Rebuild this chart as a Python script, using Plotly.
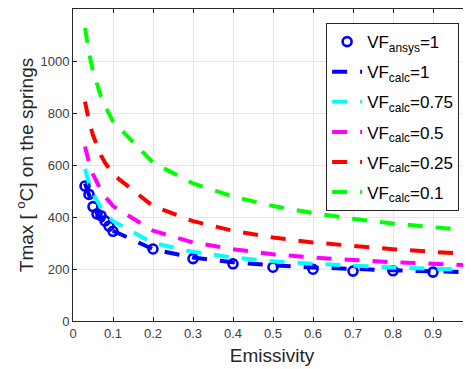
import plotly.graph_objects as go

emissivity = [0.03, 0.04, 0.05, 0.06, 0.07, 0.08, 0.09, 0.1,
              0.2, 0.3, 0.4, 0.5, 0.6, 0.7, 0.8, 0.9, 1.0]

t_ansys = [519, 487, 440, 412, 405, 385, 365, 345,
           277, 240, 220, 207, 199, 192, 193, 188, 184]

t_vf1 = [529, 479, 442, 415, 393, 375, 360, 347,
         276, 244, 226, 214, 206, 199, 195, 191, 187]
t_vf075 = [585, 529, 490, 459, 435, 415, 398, 384,
           300, 266, 244, 230, 220, 212, 206, 201, 196]
t_vf05 = [671, 609, 564, 529, 502, 479, 459, 442,
          347, 302, 276, 257, 244, 234, 226, 220, 214]
t_vf025 = [844, 768, 714, 671, 637, 609, 585, 564,
           442, 384, 347, 321, 302, 288, 276, 266, 257]
t_vf01 = [1127, 1031, 961, 907, 863, 827, 795, 768,
          609, 529, 479, 442, 415, 393, 375, 360, 347]

calc_series = [
    ("VF<sub>calc</sub>=1", t_vf1, "#0000FF"),
    ("VF<sub>calc</sub>=0.75", t_vf075, "#00FFFF"),
    ("VF<sub>calc</sub>=0.5", t_vf05, "#FF00FF"),
    ("VF<sub>calc</sub>=0.25", t_vf025, "#FF0000"),
    ("VF<sub>calc</sub>=0.1", t_vf01, "#00FF00"),
]

x_ticks = [0, 0.1, 0.2, 0.3, 0.4, 0.5, 0.6, 0.7, 0.8, 0.9, 1]
x_tick_labels = ["0", "0.1", "0.2", "0.3", "0.4", "0.5", "0.6", "0.7", "0.8", "0.9", "1"]
y_ticks = [0, 200, 400, 600, 800, 1000, 1200]

fig = go.Figure()
fig.add_trace(go.Scatter(
    x=emissivity, y=t_ansys, mode="markers", name="VF<sub>ansys</sub>=1",
    legendgroup="g0",
    marker=dict(symbol="circle-open", size=9, color="#0000FF",
                line=dict(width=2.6, color="#0000FF")),
))
for i, (name, vals, col) in enumerate(calc_series):
    fig.add_trace(go.Scatter(
        x=emissivity, y=vals, mode="lines", name=name,
        legendgroup="g%d" % (i + 1),
        line=dict(color=col, width=4, dash="15px,13px"),
    ))

axis_col = "#262626"
tick_font = dict(family="Liberation Sans, Arial, sans-serif", size=13, color="#404040")

# page body has an 8px margin, so the figure is sized to end at the window edge
fig.update_layout(
    width=463, height=361,
    margin=dict(l=65, r=0, t=1, b=48),
    paper_bgcolor="white", plot_bgcolor="white",
    font=dict(family="Liberation Sans, Arial, sans-serif", color=axis_col),
    legend=dict(
        x=0.636, y=0.955, xanchor="left", yanchor="top",
        bgcolor="white", bordercolor=axis_col, borderwidth=1,
        font=dict(size=17, color="#000000"),
        tracegroupgap=5,
    ),
    showlegend=True,
)
fig.update_xaxes(
    range=[0, 0.995], tickvals=x_ticks, ticktext=x_tick_labels,
    showgrid=True, gridcolor="#e6e6e6", gridwidth=1,
    zeroline=False, showline=True, linecolor=axis_col, linewidth=1,
    mirror="ticks", ticks="inside", ticklen=4, tickcolor=axis_col,
    tickfont=tick_font,
    title=dict(text="Emissivity", font=dict(size=19, color=axis_col), standoff=9),
)
fig.update_yaxes(
    range=[0, 1200], tickvals=y_ticks,
    showgrid=True, gridcolor="#e6e6e6", gridwidth=1,
    zeroline=False, showline=True, linecolor=axis_col, linewidth=1,
    mirror="ticks", ticks="inside", ticklen=4, tickcolor=axis_col,
    tickfont=tick_font,
    title=dict(text="Tmax [ <sup>o</sup>C] on the springs", font=dict(size=19, color=axis_col), standoff=1),
)

fig.write_html("out.html")
